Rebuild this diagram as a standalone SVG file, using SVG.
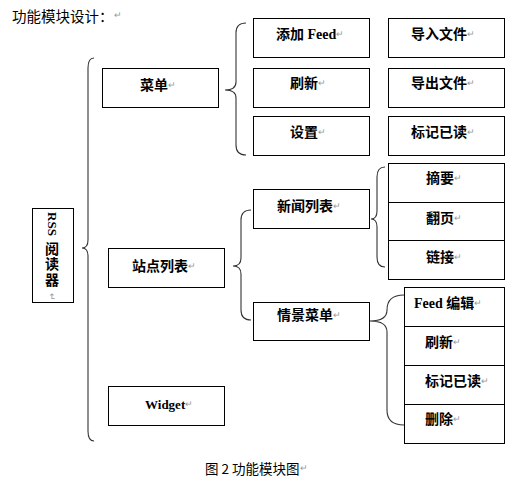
<svg xmlns="http://www.w3.org/2000/svg" width="518" height="483" viewBox="0 0 518 483">
<style>
.box{fill:#fff;stroke:#000;stroke-width:1}
.br{fill:none;stroke:#333;stroke-width:1.1}
.t{font-family:"Liberation Serif","Noto Sans CJK SC",serif;font-weight:bold;font-size:14px;fill:#000;dominant-baseline:central}
.n{font-family:"Noto Sans CJK SC","Liberation Sans",sans-serif;font-size:13px;fill:#000;dominant-baseline:central}
.rm{font-family:"Liberation Sans",sans-serif;font-weight:normal;font-size:9px;fill:#999}
</style>
<rect width="518" height="483" fill="#fff"/>
<text class="n" x="12" y="15" style="font-size:14.5px">功能模块设计：<tspan class="rm">↵</tspan></text>
<text class="n" x="205" y="468" style="font-size:13.5px">图 2 功能模块图<tspan class="rm">↵</tspan></text>

<g id="connectors">
<path class="br" d="M94,58 Q88,58 88,68 L88,240 Q88,248 82,248 Q88,248 88,256 L88,431 Q88,441 94,441"/>
<path class="br" d="M246,23 Q236,23 236,33 L236,82 Q236,90 225,90 Q236,90 236,98 L236,145 Q236,155 246,155"/>
<path class="br" d="M251,210 Q241,210 241,220 L241,258 Q241,266 233,266 Q241,266 241,274 L241,310 Q241,320 251,320"/>
<path class="br" d="M385,167 Q377,167 377,177 L377,211 Q377,219 371,219 Q377,219 377,227 L377,257 Q377,267 385,267"/>
<path class="br" d="M404,295 Q387,295 387,310 Q387,321 370,321 Q387,321 387,332 L387,410 Q387,425 404,425"/>
</g>

<g id="rss">
<rect class="box" x="32.5" y="208.5" width="41" height="94"/>
<text class="t" transform="translate(52,224) rotate(90)" text-anchor="middle" style="font-size:13px">RSS</text>
<text class="t" x="52" y="249" text-anchor="middle">阅</text>
<text class="t" x="52" y="264" text-anchor="middle">读</text>
<text class="t" x="52" y="280" text-anchor="middle">器</text>
<text class="rm" transform="translate(49,293) rotate(90)">↵</text>
</g>

<g id="menu">
<rect class="box" x="102.5" y="68.5" width="116" height="39"/>
<text class="t" x="140" y="85">菜单<tspan class="rm">↵</tspan></text>
</g>
<g id="add-feed">
<rect class="box" x="253.5" y="18.5" width="116" height="39"/>
<text class="t" x="276" y="34">添加 Feed<tspan class="rm">↵</tspan></text>
</g>
<g id="refresh">
<rect class="box" x="253.5" y="68.5" width="116" height="39"/>
<text class="t" x="290" y="83">刷新<tspan class="rm">↵</tspan></text>
</g>
<g id="settings">
<rect class="box" x="253.5" y="116.5" width="116" height="39"/>
<text class="t" x="290" y="132">设置<tspan class="rm">↵</tspan></text>
</g>
<g id="import">
<rect class="box" x="388.5" y="18.5" width="116" height="39"/>
<text class="t" x="411" y="34">导入文件<tspan class="rm">↵</tspan></text>
</g>
<g id="export">
<rect class="box" x="388.5" y="68.5" width="116" height="39"/>
<text class="t" x="411" y="83">导出文件<tspan class="rm">↵</tspan></text>
</g>
<g id="mark-read">
<rect class="box" x="388.5" y="116.5" width="116" height="39"/>
<text class="t" x="411" y="132">标记已读<tspan class="rm">↵</tspan></text>
</g>

<g id="site-list">
<rect class="box" x="108.5" y="248.5" width="116" height="39"/>
<text class="t" x="132" y="266">站点列表<tspan class="rm">↵</tspan></text>
</g>
<g id="news-list">
<rect class="box" x="253.5" y="189.5" width="116" height="39"/>
<text class="t" x="277" y="206">新闻列表<tspan class="rm">↵</tspan></text>
</g>
<g id="summary">
<rect class="box" x="388.5" y="163.5" width="116" height="39"/>
<text class="t" x="426" y="178">摘要<tspan class="rm">↵</tspan></text>
</g>
<g id="page">
<rect class="box" x="388.5" y="202.5" width="116" height="38"/>
<text class="t" x="426" y="218">翻页<tspan class="rm">↵</tspan></text>
</g>
<g id="link">
<rect class="box" x="388.5" y="240.5" width="116" height="39"/>
<text class="t" x="426" y="257">链接<tspan class="rm">↵</tspan></text>
</g>

<g id="context-menu">
<rect class="box" x="253.5" y="302.5" width="116" height="38"/>
<text class="t" x="277" y="315">情景菜单<tspan class="rm">↵</tspan></text>
</g>
<g id="feed-edit">
<rect class="box" x="404.5" y="287.5" width="100" height="39"/>
<text class="t" x="414" y="303">Feed 编辑<tspan class="rm">↵</tspan></text>
</g>
<g id="ctx-refresh">
<rect class="box" x="404.5" y="326.5" width="100" height="39"/>
<text class="t" x="425" y="342">刷新<tspan class="rm">↵</tspan></text>
</g>
<g id="ctx-mark-read">
<rect class="box" x="404.5" y="365.5" width="100" height="39"/>
<text class="t" x="425" y="381">标记已读<tspan class="rm">↵</tspan></text>
</g>
<g id="delete">
<rect class="box" x="404.5" y="404.5" width="100" height="39"/>
<text class="t" x="425" y="419">删除<tspan class="rm">↵</tspan></text>
</g>

<g id="widget">
<rect class="box" x="108.5" y="386.5" width="116" height="39"/>
<text class="t" x="145" y="404" style="font-size:13px">Widget<tspan class="rm">↵</tspan></text>
</g>
</svg>
